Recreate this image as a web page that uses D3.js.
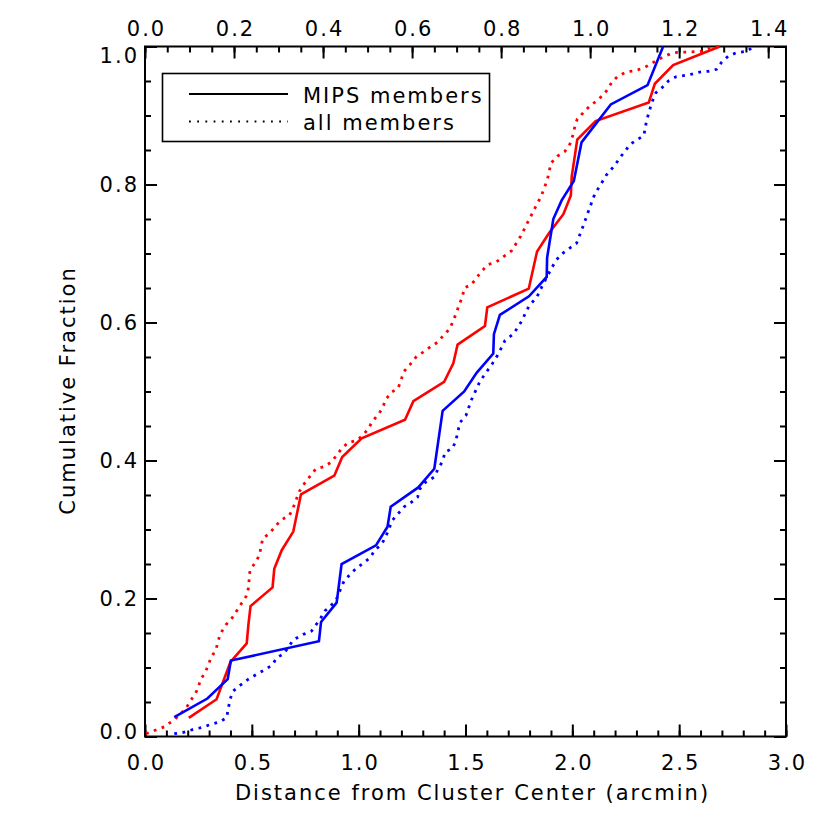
<!DOCTYPE html>
<html>
<head>
<meta charset="utf-8">
<script src="https://cdn.jsdelivr.net/npm/d3@7"></script>
<style>
  body { margin: 0; background: #fff; }
  text { font-family: "DejaVu Sans", sans-serif; font-size: 21px; letter-spacing: 2px; fill: #000; }
</style>
</head>
<body>
<script>
// cumulative fraction vs distance (arcmin), one array per curve
const redMipsDist = [0.205, 0.335, 0.40, 0.476, 0.484, 0.494, 0.597, 0.605, 0.64, 0.694, 0.73, 0.886, 0.923, 1.014, 1.217, 1.256, 1.40, 1.443, 1.463, 1.591, 1.602, 1.796, 1.835, 1.892, 1.958, 1.993, 1.997, 2.023, 2.109, 2.358, 2.386, 2.472, 2.69];
const redMipsFrac = [0.027, 0.054, 0.108, 0.135, 0.162, 0.189, 0.216, 0.243, 0.270, 0.297, 0.351, 0.378, 0.405, 0.432, 0.459, 0.486, 0.514, 0.541, 0.568, 0.595, 0.622, 0.649, 0.703, 0.730, 0.757, 0.784, 0.811, 0.865, 0.892, 0.919, 0.946, 0.973, 1.0];

const blueMipsDist = [0.137, 0.292, 0.387, 0.402, 0.814, 0.824, 0.897, 0.920, 1.081, 1.135, 1.15, 1.279, 1.354, 1.393, 1.494, 1.552, 1.63, 1.633, 1.661, 1.797, 1.88, 1.882, 1.911, 1.95, 2.007, 2.043, 2.18, 2.352, 2.425];
const blueMipsFrac = [0.028, 0.055, 0.083, 0.110, 0.138, 0.166, 0.194, 0.250, 0.277, 0.304, 0.333, 0.361, 0.388, 0.472, 0.500, 0.527, 0.555, 0.583, 0.611, 0.638, 0.666, 0.694, 0.750, 0.777, 0.805, 0.861, 0.916, 0.944, 1.0];

const redAllDist = [0.005, 0.09, 0.14, 0.19, 0.242, 0.262, 0.285, 0.309, 0.332, 0.351, 0.379, 0.406, 0.429, 0.452, 0.473, 0.484, 0.491, 0.515, 0.535, 0.551, 0.585, 0.613, 0.644, 0.675, 0.694, 0.722, 0.749, 0.772, 0.80, 0.839, 0.873, 0.92, 0.951, 0.99, 1.018, 1.045, 1.065, 1.096, 1.115, 1.128, 1.154, 1.185, 1.212, 1.24, 1.271, 1.302, 1.337, 1.368, 1.396, 1.427, 1.455, 1.471, 1.486, 1.494, 1.528, 1.552, 1.575, 1.606, 1.645, 1.68, 1.716, 1.758, 1.794, 1.814, 1.833, 1.853, 1.883, 1.892, 1.90, 1.93, 1.965, 1.989, 2.001, 2.012, 2.023, 2.048, 2.079, 2.113, 2.145, 2.168, 2.184, 2.21, 2.251, 2.293, 2.335, 2.379, 2.425, 2.472, 2.535, 2.604, 2.644, 2.683];
const redAllFrac = [0.004, 0.014, 0.025, 0.04, 0.066, 0.083, 0.095, 0.114, 0.126, 0.148, 0.162, 0.171, 0.182, 0.193, 0.203, 0.215, 0.24, 0.252, 0.262, 0.287, 0.295, 0.306, 0.315, 0.32, 0.332, 0.355, 0.368, 0.377, 0.388, 0.391, 0.398, 0.417, 0.426, 0.429, 0.436, 0.446, 0.457, 0.468, 0.479, 0.489, 0.499, 0.505, 0.529, 0.539, 0.551, 0.557, 0.565, 0.571, 0.581, 0.591, 0.612, 0.626, 0.638, 0.65, 0.655, 0.665, 0.674, 0.684, 0.688, 0.696, 0.704, 0.725, 0.747, 0.759, 0.771, 0.782, 0.807, 0.819, 0.831, 0.841, 0.848, 0.859, 0.87, 0.884, 0.895, 0.903, 0.913, 0.921, 0.93, 0.939, 0.948, 0.956, 0.963, 0.965, 0.969, 0.977, 0.985, 0.991, 0.992, 0.993, 0.998, 1.0];

const blueAllDist = [0.137, 0.18, 0.223, 0.265, 0.304, 0.348, 0.382, 0.398, 0.413, 0.445, 0.484, 0.522, 0.562, 0.597, 0.616, 0.65, 0.694, 0.741, 0.78, 0.819, 0.842, 0.881, 0.897, 0.931, 0.963, 0.99, 1.025, 1.053, 1.076, 1.108, 1.126, 1.142, 1.157, 1.185, 1.213, 1.249, 1.276, 1.287, 1.315, 1.354, 1.372, 1.393, 1.404, 1.44, 1.455, 1.474, 1.502, 1.528, 1.568, 1.591, 1.627, 1.653, 1.685, 1.723, 1.747, 1.767, 1.783, 1.802, 1.833, 1.851, 1.903, 1.926, 1.958, 2.02, 2.051, 2.075, 2.106, 2.129, 2.16, 2.199, 2.223, 2.246, 2.27, 2.304, 2.335, 2.347, 2.36, 2.371, 2.391, 2.422, 2.449, 2.485, 2.547, 2.597, 2.636, 2.675, 2.698, 2.729, 2.768, 2.816, 2.85];
const blueAllFrac = [0.004, 0.006, 0.01, 0.013, 0.017, 0.021, 0.027, 0.054, 0.066, 0.074, 0.083, 0.09, 0.097, 0.104, 0.114, 0.12, 0.14, 0.148, 0.153, 0.17, 0.182, 0.193, 0.2, 0.225, 0.236, 0.244, 0.252, 0.259, 0.27, 0.279, 0.289, 0.301, 0.313, 0.323, 0.333, 0.34, 0.347, 0.359, 0.369, 0.376, 0.388, 0.399, 0.412, 0.418, 0.429, 0.455, 0.465, 0.488, 0.515, 0.525, 0.541, 0.554, 0.574, 0.583, 0.594, 0.604, 0.616, 0.626, 0.636, 0.648, 0.679, 0.691, 0.701, 0.715, 0.74, 0.761, 0.787, 0.798, 0.814, 0.828, 0.839, 0.848, 0.858, 0.865, 0.871, 0.892, 0.906, 0.918, 0.933, 0.941, 0.95, 0.956, 0.959, 0.963, 0.964, 0.967, 0.977, 0.986, 0.991, 0.993, 1.0];

const xTicks = [0.0, 0.5, 1.0, 1.5, 2.0, 2.5, 3.0];
const topTicks = [0.0, 0.2, 0.4, 0.6, 0.8, 1.0, 1.2, 1.4];
const yTicks = [0.0, 0.2, 0.4, 0.6, 0.8, 1.0];
const legendLabels = ["MIPS members", "all members"];

const w = 830, h = 830;
const padLeft = 145, padRight = 786, padTop = 46.5, padBottom = 736.5;

const svg = d3.select("body").append("svg").attr("width", w).attr("height", h);

const xScale = d3.scaleLinear().domain([0, 3]).range([padLeft, padRight]);
const topScale = d3.scaleLinear().domain([0, 1.44]).range([padLeft, padRight]);
const yScale = d3.scaleLinear().domain([0, 1]).range([padBottom, padTop]);

const fmt = d3.format(".1f");

function addAxis(axisFn, scale, major, minor, transform, labels, pad) {
  const g = svg.append("g").attr("transform", transform);
  g.append("g").call(axisFn(scale).tickValues(minor).tickSize(-6).tickFormat(""))
    .call((s) => s.select(".domain").remove());
  const m = g.append("g").call(axisFn(scale).tickValues(major).tickSize(-12).tickPadding(pad)
    .tickFormat(labels ? fmt : ""))
    .call((s) => s.select(".domain").remove());
  g.selectAll("line").attr("stroke", "#000").attr("stroke-width", 2);
  g.selectAll("g").attr("font-size", null).attr("font-family", null);
  return m;
}

const minorX = d3.range(0, 3.001, 0.1);
const minorTop = d3.range(0, 1.441, 0.05);
const minorY = d3.range(0, 1.001, 0.05);

const xAx = addAxis(d3.axisBottom, xScale, xTicks, minorX, `translate(0,${padBottom})`, true, 19);
const tAx = addAxis(d3.axisTop, topScale, topTicks, minorTop, `translate(0,${padTop})`, true, 11);
const yAx = addAxis(d3.axisLeft, yScale, yTicks, minorY, `translate(${padLeft},0)`, true, 6);
addAxis(d3.axisRight, yScale, yTicks, minorY, `translate(${padRight},0)`, false, 6);

// centre the spaced labels on their ticks
xAx.selectAll(".tick text").attr("dx", "1px");
tAx.selectAll(".tick text").attr("dx", "1px");

// end labels on the y axis sit inside the frame
yAx.selectAll(".tick text")
  .attr("dy", (d) => (d === 1 ? "0.75em" : d === 0 ? "0.08em" : "0.35em"));

// frame
svg.append("rect")
  .attr("x", padLeft).attr("y", padTop)
  .attr("width", padRight - padLeft).attr("height", padBottom - padTop)
  .attr("fill", "none").attr("stroke", "#000").attr("stroke-width", 2);

const line = d3.line().x((d) => xScale(d[0])).y((d) => yScale(d[1]));

const curves = [
  { d: d3.zip(redAllDist, redAllFrac), color: "#ff0000", dotted: true },
  { d: d3.zip(redMipsDist, redMipsFrac), color: "#ff0000", dotted: false },
  { d: d3.zip(blueAllDist, blueAllFrac), color: "#0000ff", dotted: true },
  { d: d3.zip(blueMipsDist, blueMipsFrac), color: "#0000ff", dotted: false }
];

curves.forEach((c) => {
  svg.append("path")
    .datum(c.d)
    .attr("d", line)
    .attr("fill", "none")
    .attr("stroke", c.color)
    .attr("stroke-width", c.dotted ? 2.8 : 2.6)
    .attr("stroke-dasharray", c.dotted ? "2.8,5.5" : null);
});

// legend
svg.append("rect")
  .attr("x", 162.5).attr("y", 73.5).attr("width", 327).attr("height", 68)
  .attr("fill", "#fff").attr("stroke", "#000").attr("stroke-width", 1.6);

legendLabels.forEach((t, i) => {
  const yy = 94 + i * 27.5;
  svg.append("line")
    .attr("x1", 189).attr("x2", 288).attr("y1", yy).attr("y2", yy)
    .attr("stroke", "#000").attr("stroke-width", 1.8)
    .attr("stroke-dasharray", i === 0 ? null : "1.8,6.4");
  svg.append("text")
    .attr("x", 303).attr("y", yy + 8.5)
    .text(t);
});

// axis titles
svg.append("text")
  .attr("x", (padLeft + padRight) / 2 + 7).attr("y", 800)
  .attr("text-anchor", "middle")
  .text("Distance from Cluster Center (arcmin)");

svg.append("text")
  .attr("transform", `translate(75,${(padTop + padBottom) / 2 - 1}) rotate(-90)`)
  .attr("text-anchor", "middle")
  .text("Cumulative Fraction");
</script>
</body>
</html>
